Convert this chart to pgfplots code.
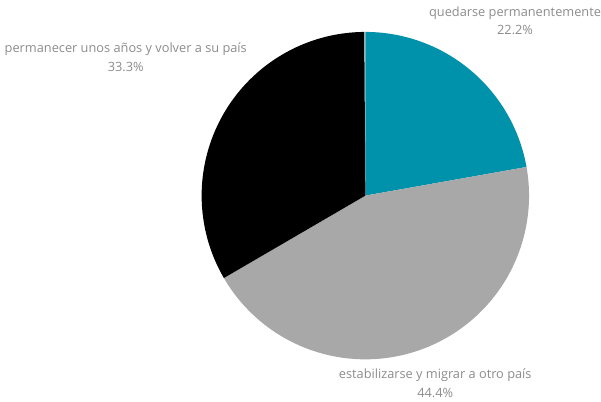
\documentclass[border=0pt]{standalone}
\usepackage{pgfplots}
\pgfplotsset{compat=1.18}
\usepackage{fontspec}
\setmainfont{Open Sans}
\definecolor{cteal}{HTML}{0092AA}
\definecolor{cgray}{HTML}{A8A8A8}
\definecolor{ctext}{HTML}{8C8C8C}
% slice values (percent)
\def\va{22.2}
\def\vb{44.4}
\def\vc{33.3}
\tikzset{lbl/.style={font=\fontsize{12.8bp}{18.5bp}\selectfont, text=ctext, align=center, inner sep=0pt}}
\begin{document}
\begin{tikzpicture}
\pgfmathsetmacro{\aA}{90}
\pgfmathsetmacro{\aB}{90-\va*3.6}
\pgfmathsetmacro{\aC}{\aB-\vb*3.6}
\pgfmathsetmacro{\aD}{\aC-\vc*3.6}
\begin{axis}[
  scale only axis, width=601bp, height=402bp,
  xmin=0, xmax=601, ymin=0, ymax=402,
  hide axis, clip=false,
]
\path (axis cs:0,0) rectangle (axis cs:601,402);
\addplot[fill=cteal, draw=none, domain=\aB:\aA, samples=80] ({366+164*cos(x)},{206+164*sin(x)}) -- (axis cs:366,206) -- cycle;
\addplot[fill=cgray, draw=none, domain=\aC:\aB, samples=120] ({366+164*cos(x)},{206+164*sin(x)}) -- (axis cs:366,206) -- cycle;
\addplot[fill=black, draw=none, domain=\aD:\aC, samples=100] ({366+164*cos(x)},{206+164*sin(x)}) -- (axis cs:366,206) -- cycle;
\node[lbl] at (axis cs:516,381) {quedarse permanentemente\\22.2\%};
\node[lbl] at (axis cs:126,344.5) {permanecer unos años y volver a su país\\33.3\%};
\node[lbl] at (axis cs:436,18) {estabilizarse y migrar a otro país\\44.4\%};
\end{axis}
\end{tikzpicture}
\end{document}
